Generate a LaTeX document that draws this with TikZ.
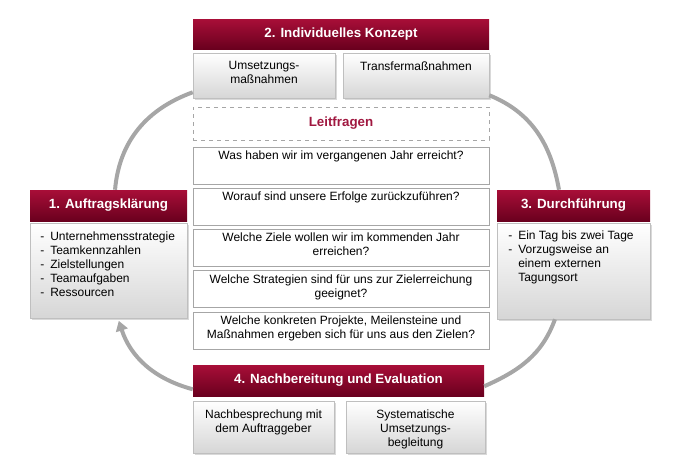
\documentclass[tikz,border=0pt]{standalone}
\usepackage{fontspec}
\setmainfont{Liberation Sans}
\usetikzlibrary{arrows.meta,shadows}
\definecolor{hdtop}{RGB}{168,14,56}
\definecolor{hdbot}{RGB}{106,0,30}
\definecolor{lfred}{RGB}{160,24,64}
\definecolor{arcgray}{RGB}{166,166,166}
\newcommand{\dashitem}[1]{\makebox[7.5pt][l]{-}#1}

\begin{document}
\begin{tikzpicture}[x=0.75pt, y=0.75pt,
hdr/.style={draw=none, top color=hdtop, bottom color=hdbot, text=white, font=\fontsize{10}{12}\selectfont\bfseries, inner sep=0pt},
sub/.style={draw=black!25, top color=white, bottom color=black!16, drop shadow={shadow xshift=1.5pt, shadow yshift=-1.5pt, opacity=0.3}, inner sep=0pt},
qbox/.style={draw=black!35, fill=white, minimum width=222pt, minimum height=27.75pt, inner sep=0pt},
txt/.style={anchor=north, align=center, inner sep=0pt, font=\fontsize{9}{10.5}\selectfont},
lst/.style={anchor=north west, align=left, inner sep=0pt, font=\fontsize{9}{10.5}\selectfont},
cyc/.style={draw=arcgray, line width=3pt}]
\useasboundingbox (0,0) rectangle (684,-464);
\node[hdr, minimum width=222pt, minimum height=22.5pt] (h2) at (341,-34) {2. Individuelles Konzept};
\node[sub, minimum width=106.5pt, minimum height=33.75pt] (k2a) at (264,-75.5) {};
\node[txt] (k2aT) at (264,-60.5) {Umsetzungs-\\maßnahmen};
\node[sub, minimum width=109.5pt, minimum height=33.75pt] (k2b) at (416,-75.5) {};
\node[txt] (k2bT) at (416,-61.5) {Transfermaßnahmen};
\node[draw=black!35, dashed, minimum width=222pt, minimum height=24.75pt, text=lfred, font=\fontsize{10}{12}\selectfont\bfseries] (lf) at (341,-123.5) {Leitfragen};
\node[qbox] (q1) at (341,-165.5) {};
\node[txt] (q1T) at (341,-150.5) {Was haben wir im vergangenen Jahr erreicht?};
\node[qbox] (q2) at (341,-206.75) {};
\node[txt] (q2T) at (341,-191.75) {Worauf sind unsere Erfolge zurückzuführen?};
\node[qbox] (q3) at (341,-248) {};
\node[txt] (q3T) at (341,-233) {Welche Ziele wollen wir im kommenden Jahr\\erreichen?};
\node[qbox] (q4) at (341,-289.25) {};
\node[txt] (q4T) at (341,-274.25) {Welche Strategien sind für uns zur Zielerreichung\\geeignet?};
\node[qbox] (q5) at (341,-330.5) {};
\node[txt] (q5T) at (341,-315.5) {Welche konkreten Projekte, Meilensteine und\\Maßnahmen ergeben sich für uns aus den Zielen?};
\node[hdr, minimum width=117.75pt, minimum height=23.25pt] (h1) at (108.5,-205.5) {1. Auftragsklärung};
\node[sub, minimum width=117.75pt, minimum height=71.25pt] (b1) at (108.5,-270.5) {};
\node[lst] (b1T) at (40,-231.5) {\dashitem{Unternehmensstrategie}\\\dashitem{Teamkennzahlen}\\\dashitem{Zielstellungen}\\\dashitem{Teamaufgaben}\\\dashitem{Ressourcen}};
\node[hdr, minimum width=114.75pt, minimum height=23.25pt] (h3) at (573.5,-205.5) {3. Durchführung};
\node[sub, minimum width=114.75pt, minimum height=72pt] (b3) at (573.5,-271) {};
\node[lst] (b3T) at (508,-230.5) {\dashitem{Ein Tag bis zwei Tage}\\\dashitem{Vorzugsweise an}\\\hspace*{7.5pt}einem externen\\\hspace*{7.5pt}Tagungsort};
\node[hdr, minimum width=218.25pt, minimum height=23.25pt] (h4) at (338.5,-380.5) {4. Nachbereitung und Evaluation};
\node[sub, minimum width=105.75pt, minimum height=39pt] (k4a) at (263.5,-427) {};
\node[txt] (k4aT) at (263.5,-409.5) {Nachbesprechung mit\\dem Auftraggeber};
\node[sub, minimum width=104.25pt, minimum height=39pt] (k4b) at (415.5,-427) {};
\node[txt] (k4bT) at (415.5,-409.5) {Systematische\\Umsetzungs-\\begleitung};
\draw[cyc] ([yshift=4.5pt]k2a.south west) to[out=200, in=85] ([xshift=4.9pt]h1.north);
\draw[cyc] ([yshift=2.25pt]k2b.south east) to[out=-22, in=100] ([xshift=-10.9pt]h3.north);
\draw[cyc] ([xshift=-13.9pt]b3.south) to[out=-110, in=24] ([yshift=7.5pt]h4.south east);
\draw[cyc, -{Triangle[length=7.5pt, width=9pt]}, shorten >=2pt] ([yshift=5.25pt]h4.south west) to[out=165, in=-72] ([xshift=7.1pt]b1.south);
\end{tikzpicture}
\end{document}
